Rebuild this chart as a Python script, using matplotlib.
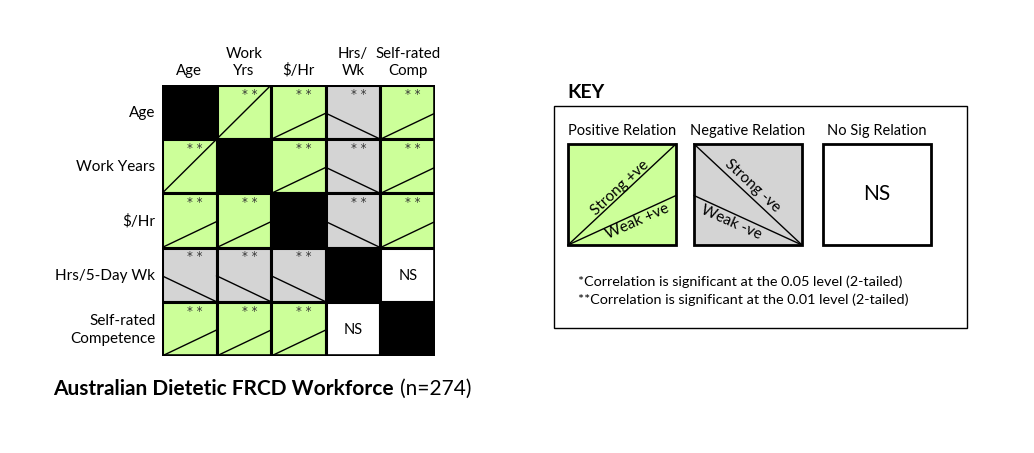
import matplotlib
matplotlib.use("Agg")
import matplotlib.pyplot as plt
from matplotlib.patches import Rectangle

plt.rcParams['font.family'] = ['Lato', 'DejaVu Sans']

# variables of the correlation matrix
row_labels = ["Age", "Work Years", "$/Hr", "Hrs/5-Day Wk", "Self-rated\nCompetence"]
col_labels = ["Age", "Work\nYrs", "$/Hr", "Hrs/\nWk", "Self-rated\nComp"]

# relation codes: S+ strong positive, W+ weak positive, W- weak negative,
# NS not significant, D diagonal
relations = [
    ["D",  "S+", "W+", "W-", "W+"],
    ["S+", "D",  "W+", "W-", "W+"],
    ["W+", "W+", "D",  "W-", "W+"],
    ["W-", "W-", "W-", "D",  "NS"],
    ["W+", "W+", "W+", "NS", "D"],
]
stars = [
    ["",   "**", "**", "**", "**"],
    ["**", "",   "**", "**", "**"],
    ["**", "**", "",   "**", "**"],
    ["**", "**", "**", "",   ""],
    ["**", "**", "**", "",   ""],
]
# height reached by the line on the right (positive) or left (negative) edge
line_height = {"S+": 1.0, "W+": 0.48, "W-": 0.48}

GREEN = "#ccff99"
GREY = "#d4d4d4"

fig = plt.figure(figsize=(10.34, 4.53), dpi=100)

# ---- matrix ----
W, H = 1034, 453
ax = fig.add_axes([162 / W, (H - 356) / H, 273 / W, 271 / H])
n = len(row_labels)
ax.set_xlim(0, n)
ax.set_ylim(n, 0)
ax.axis("off")

for i in range(n):
    for j in range(n):
        code = relations[i][j]
        if code == "D":
            fc = "black"
        elif code == "NS":
            fc = "white"
        elif code.endswith("+"):
            fc = GREEN
        else:
            fc = GREY
        ax.add_patch(Rectangle((j, i), 1, 1, facecolor=fc, edgecolor="black",
                               lw=2.2, zorder=1))
        if code in ("S+", "W+"):
            h = line_height[code]
            ax.plot([j, j + 1], [i + 1, i + 1 - h], color="black", lw=1, zorder=2)
        elif code == "W-":
            h = line_height[code]
            ax.plot([j, j + 1], [i + 1 - h, i + 1], color="black", lw=1, zorder=2)
        elif code == "NS":
            ax.text(j + 0.5, i + 0.52, "NS", ha="center", va="center", fontsize=10.5)
        if stars[i][j]:
            ax.text(j + 0.6, i + 0.05, " ".join(stars[i][j]), ha="center", va="top",
                    fontsize=8.5, color="#333333", family="DejaVu Sans")
ax.add_patch(Rectangle((0, 0), n, n, fill=False, edgecolor="black", lw=2.6, zorder=3))

for i, lab in enumerate(row_labels):
    ax.text(-0.12, i + 0.52, lab, ha="right", va="center", fontsize=11,
            linespacing=1.35)
for j, lab in enumerate(col_labels):
    ax.text(j + 0.5, -0.13, lab, ha="center", va="bottom", fontsize=10.8,
            linespacing=1.3)

# ---- title ----
t = fig.text(53 / W, 1 - 389 / H, "Australian Dietetic FRCD Workforce",
             fontsize=15, fontweight="bold", va="center", ha="left")
fig.canvas.draw()
bb = t.get_window_extent()
fig.text(bb.x1 / W + 6 / W, 1 - 389 / H, "(n=274)", fontsize=15,
         va="center", ha="left")

# ---- key ----
kx = fig.add_axes([0, 0, 1, 1])
kx.set_xlim(0, W)
kx.set_ylim(H, 0)
kx.axis("off")

kx.text(567, 93, "KEY", fontsize=14, fontweight="bold", va="center", ha="left")
kx.add_patch(Rectangle((554, 106), 413, 222, fill=False, edgecolor="black", lw=1))

sq_w, sq_h, sq_top = 108, 101, 144
key_items = [("Positive Relation", 568, GREEN), ("Negative Relation", 694, GREY),
             ("No Sig Relation", 823, "white")]
for lab, x0, fc in key_items:
    kx.text(x0 + sq_w / 2, 131, lab, ha="center", va="center", fontsize=10.5)
    kx.add_patch(Rectangle((x0, sq_top), sq_w, sq_h, facecolor=fc,
                           edgecolor="black", lw=2))

bot = sq_top + sq_h
weak_h = 0.49 * sq_h
# positive
x0 = 568
kx.plot([x0, x0 + sq_w], [bot, sq_top], color="black", lw=1)
kx.plot([x0, x0 + sq_w], [bot, bot - weak_h], color="black", lw=1)
kx.text(620, 188, "Strong +ve", rotation=43, ha="center", va="center", fontsize=11)
kx.text(637, 222, "Weak +ve", rotation=24, ha="center", va="center", fontsize=11)
# negative
x0 = 694
kx.plot([x0, x0 + sq_w], [sq_top, bot], color="black", lw=1)
kx.plot([x0, x0 + sq_w], [bot - weak_h, bot], color="black", lw=1)
kx.text(752, 186, "Strong -ve", rotation=-43, ha="center", va="center", fontsize=11)
kx.text(731, 223, "Weak -ve", rotation=-24, ha="center", va="center", fontsize=11)
# NS
kx.text(823 + sq_w / 2, sq_top + sq_h / 2, "NS", ha="center", va="center", fontsize=15)

kx.text(578, 282, "*Correlation is significant at the 0.05 level (2-tailed)",
        fontsize=10.4, va="center", ha="left")
kx.text(578, 300, "**Correlation is significant at the 0.01 level (2-tailed)",
        fontsize=10.4, va="center", ha="left")

fig.savefig("out.png", dpi=100, facecolor="white")
